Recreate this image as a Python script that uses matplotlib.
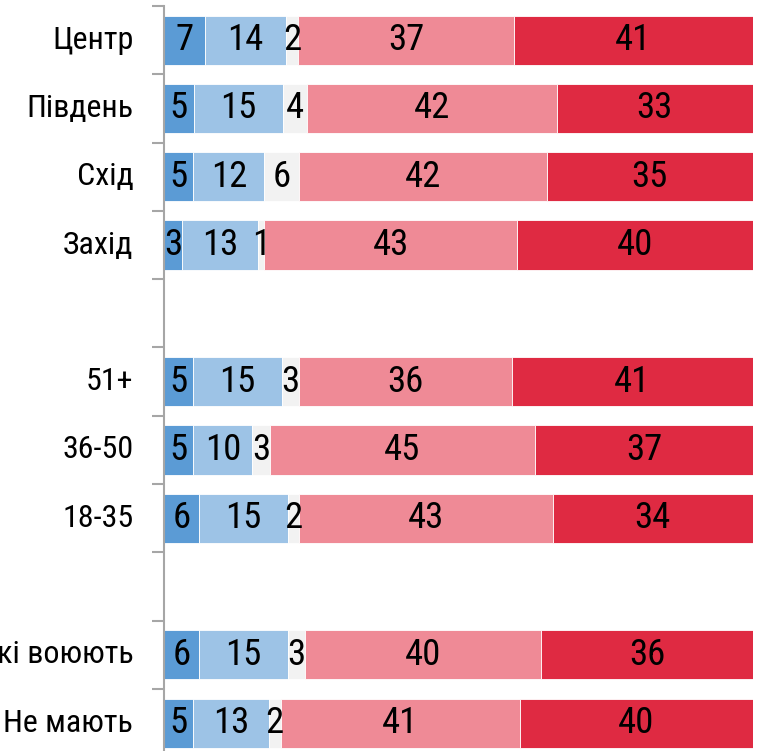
import matplotlib
matplotlib.use("Agg")
import matplotlib.pyplot as plt
import numpy as np

plt.rcParams['font.family'] = ['Roboto Condensed', 'PT Sans Narrow', 'DejaVu Sans']

categories = ["Центр", "Південь", "Схід", "Захід", "",
              "51+", "36-50", "18-35", "",
              "Мають родичів, які воюють", "Не мають"]

s1 = [7, 5, 5, 3, None, 5, 5, 6, None, 6, 5]
s2 = [14, 15, 12, 13, None, 15, 10, 15, None, 15, 13]
s3 = [2, 4, 6, 1, None, 3, 3, 2, None, 3, 2]
s4 = [37, 42, 42, 43, None, 36, 45, 43, None, 40, 41]
s5 = [41, 33, 35, 40, None, 41, 37, 34, None, 36, 40]

series = [s1, s2, s3, s4, s5]
colors = ["#5B9BD5", "#9DC3E6", "#F2F2F2", "#EF8A96", "#DF2A42"]

W, H = 766, 751
fig = plt.figure(figsize=(W / 100, H / 100), dpi=100)
pitch = 68.3
top_px = 6
ax_h = pitch * len(categories)
ax = fig.add_axes([164 / W, (H - top_px - ax_h) / H, 589 / W, ax_h / H])

n = len(categories)
y = np.arange(n)
for i in range(n):
    if s1[i] is None:
        continue
    vals = np.array([s[i] for s in series], dtype=float)
    norm = vals / vals.sum() * 100
    left = 0
    for v, nv, c in zip(vals, norm, colors):
        ax.barh(y[i], nv, left=left, height=0.72, color=c, edgecolor="white", linewidth=0.6)
        ax.text(left + nv / 2, y[i], f"{int(v)}", ha="center", va="center",
                fontsize=26.5, color="black")
        left += nv

ax.set_xlim(0, 100)
ax.set_ylim(n - 0.5, -0.5)
ax.set_xticks([])
ax.set_yticks(np.arange(n + 1) - 0.5)
ax.set_yticklabels([])
ax.tick_params(axis="y", length=9, width=1.5, color="#A6A6A6", direction="out")
for sp in ["top", "right", "bottom"]:
    ax.spines[sp].set_visible(False)
ax.spines["left"].set_color("#A6A6A6")
ax.spines["left"].set_linewidth(1.5)

for i, lab in enumerate(categories):
    if lab:
        ax.text(-0.052, y[i], lab, transform=ax.get_yaxis_transform(),
                ha="right", va="center", fontsize=23, color="black")

fig.savefig("out.png", dpi=100)
